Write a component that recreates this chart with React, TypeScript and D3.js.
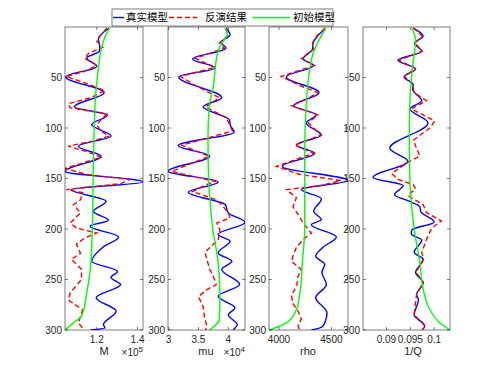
import React from "react";
import * as d3 from "d3";

type P = [number, number];

// depth ticks
const depthTicks = [50, 100, 150, 200, 250, 300];

// ---------- M (x10^5) ----------
const mTrue: P[] = [
  [1, 1.262], [12, 1.208], [20, 1.215], [24, 1.212], [30.6, 1.151], [39, 1.2], [49.4, 1.047], [65, 1.236],
  [79, 1.09], [87.4, 1.252], [96.6, 1.175], [108, 1.27], [118, 1.11], [128, 1.221], [142.9, 1.044],
  [153.4, 1.427], [161, 1.074], [172.6, 1.246], [182.5, 1.183], [191.4, 1.257], [197.3, 1.167],
  [207.8, 1.307], [218, 1.23], [232, 1.175], [242, 1.302], [248, 1.27], [255, 1.317], [268, 1.197],
  [281.5, 1.295], [294.6, 1.233], [298, 1.24], [300, 1.17],
];
const mInv: P[] = [
  [1, 1.25], [8, 1.22], [14, 1.2], [20, 1.23], [26, 1.16], [31, 1.14], [38, 1.2], [44, 1.14], [49, 1.05],
  [56, 1.15], [63, 1.24], [70, 1.17], [76, 1.06], [80, 1.07], [86, 1.25], [92, 1.22], [97, 1.2],
  [103, 1.22], [108, 1.26], [113, 1.18], [118, 1.06], [124, 1.16], [129, 1.22], [134, 1.14], [140, 1.045],
  [146, 1.15], [151, 1.36], [155, 1.32], [161, 1.05], [164, 1.13], [171, 1.12], [176, 1.085], [184, 1.12],
  [194, 1.07], [199, 1.1], [204, 1.2], [209, 1.14], [215, 1.1], [224, 1.12], [230, 1.075], [240, 1.125],
  [250, 1.125], [263, 1.07], [270, 1.06], [280, 1.13], [293, 1.11], [298, 1.13],
];
const mInit: P[] = [
  [1, 1.262], [10, 1.24], [24, 1.22], [41, 1.208], [74, 1.192], [143, 1.183], [184, 1.18], [233, 1.171],
  [263, 1.151], [286, 1.126], [293, 1.085], [300, 1.044],
];

// ---------- mu (x10^4) ----------
const muTrue: P[] = [
  [1, 3.963], [8, 4.03], [15, 3.88], [21, 3.96], [31.6, 3.4], [40.5, 3.78], [49.4, 3.17], [70, 3.89],
  [79, 3.58], [92, 4.02], [98, 4.04], [104, 4.1], [117.4, 3.16], [128, 3.69], [142.9, 2.99], [153.4, 3.83],
  [163.6, 3.33], [176, 3.95], [184, 4.0], [193.3, 4.28], [205.5, 3.83], [212, 4.03], [223.7, 3.83],
  [232, 4.06], [240, 3.89], [255, 4.19], [266.6, 3.83], [278, 4.11], [285, 4.0], [294.6, 4.15], [300, 4.08],
];
const muInv: P[] = [
  [1, 3.95], [8, 4.0], [16, 3.85], [21, 3.93], [31, 3.45], [40, 3.77], [49, 3.2], [58, 3.45], [70, 3.85],
  [79, 3.62], [90, 3.97], [103, 4.07], [117, 3.22], [128, 3.68], [143, 3.05], [153, 3.78], [157, 3.6],
  [163, 3.4], [171, 3.8], [176, 3.89], [184, 4.0], [189, 4.03], [194, 3.81], [201, 3.86], [211, 3.83],
  [220, 3.66], [223, 3.61], [230, 3.64], [240, 3.69], [247, 3.75], [255, 3.8], [260, 3.64], [267, 3.5],
  [277, 3.58], [287, 3.6], [296, 3.64], [300, 3.62],
];
const muInit: P[] = [
  [1, 3.95], [7, 3.985], [16, 3.89], [26, 3.82], [36, 3.79], [59, 3.75], [79, 3.68], [109, 3.66],
  [152, 3.67], [168, 3.69], [200, 3.74], [233, 3.83], [266, 3.86], [290, 3.85], [297, 3.75], [300, 3.69],
];

// ---------- rho ----------
const rhoTrue: P[] = [
  [1, 4446], [10, 4360], [16, 4325], [22, 4320], [31.6, 4229], [38, 4331], [49.4, 4070], [65, 4382],
  [78, 4140], [87, 4357], [95, 4261], [107, 4404], [116.8, 4166], [125, 4341], [138, 4032], [152, 4658],
  [161, 4213], [170, 4404], [182.5, 4331], [190.7, 4404], [195.7, 4309], [208, 4547], [218, 4420],
  [227, 4350], [235, 4436], [243, 4410], [255, 4452], [268, 4350], [283, 4458], [292, 4440], [297, 4410],
  [300, 4309],
];
const rhoInv: P[] = [
  [1, 4440], [10, 4350], [16, 4320], [22, 4330], [31, 4215], [38, 4340], [49, 4020], [58, 4200],
  [65, 4370], [72, 4250], [78, 4120], [87, 4370], [95, 4280], [107, 4400], [117, 4150], [125, 4330],
  [138, 3975], [146, 4200], [152, 4590], [157, 4400], [161, 4071], [169, 4166], [178, 4134], [188, 4197],
  [194, 4229], [204, 4309], [209, 4245], [218, 4166], [227, 4134], [232, 4118], [240, 4213], [247, 4181],
  [256, 4170], [266, 4118], [274, 4134], [281, 4181], [289, 4213], [296, 4181], [300, 4200],
];
const rhoInit: P[] = [
  [1, 4446], [26, 4325], [42, 4293], [75, 4261], [125, 4245], [200, 4245], [233, 4223], [260, 4204],
  [280, 4166], [293, 4070], [300, 3911],
];

// ---------- 1/Q ----------
const qTrue: P[] = [
  [1, 0.0956], [9, 0.0977], [16, 0.0959], [24, 0.0974], [33, 0.0924], [41.5, 0.0961], [49.4, 0.0937],
  [57, 0.0956], [62, 0.0955], [73, 0.0974], [81, 0.0949], [95, 0.0987], [120, 0.0907], [133, 0.0945],
  [149, 0.0872], [157, 0.0935], [166, 0.0917], [172, 0.0945], [178, 0.097], [183, 0.0972], [193, 0.1],
  [201, 0.0953], [205, 0.0952], [211, 0.0974], [223, 0.0958], [230, 0.0977], [243, 0.0961], [253, 0.0977],
  [265, 0.0963], [270, 0.0967], [285, 0.0958], [296, 0.098], [300, 0.0975],
];
const qInv: P[] = [
  [1, 0.0956], [9, 0.0975], [16, 0.096], [24, 0.0975], [33, 0.0926], [41, 0.096], [49, 0.0938],
  [57, 0.0955], [65, 0.0958], [73, 0.0984], [81, 0.0952], [93, 0.1001], [100, 0.0991], [112, 0.0956],
  [128, 0.097], [133, 0.0948], [145, 0.0911], [151, 0.0924], [156, 0.0956], [160, 0.0961], [167, 0.0945],
  [176, 0.0977], [184, 0.0984], [192, 0.1015], [199, 0.0995], [210, 0.0984], [223, 0.0974], [230, 0.0977],
  [243, 0.0962], [253, 0.0977], [265, 0.0963], [285, 0.0958], [296, 0.0981], [300, 0.0975],
];
const qInit: P[] = [
  [1, 0.0953], [13, 0.0961], [42, 0.0954], [75, 0.0949], [108, 0.0948], [152, 0.0949], [167, 0.0951],
  [200, 0.0958], [233, 0.097], [260, 0.0977], [280, 0.0991], [293, 0.1012], [300, 0.1033],
];

// legend labels
const legendLabels = ["真实模型", "反演结果", "初始模型"];

const panels = [
  { key: "M", label: "M", exp: "5", domain: [1.044, 1.427], ticks: [1.2, 1.4], fmt: (v: number) => v.toFixed(1), x0: 65, x1: 143, labelX: 104, series: [mTrue, mInv, mInit], tickLabelEnd: 62 },
  { key: "mu", label: "mu", exp: "4", domain: [2.99, 4.28], ticks: [3, 3.5, 4], fmt: (v: number) => String(v), x0: 168, x1: 245, labelX: 206, series: [muTrue, muInv, muInit], tickLabelEnd: 165 },
  { key: "rho", label: "rho", exp: "", domain: [3905, 4658], ticks: [4000, 4500], fmt: (v: number) => String(v), x0: 269, x1: 348, labelX: 308, series: [rhoTrue, rhoInv, rhoInit], tickLabelEnd: 266 },
  { key: "q", label: "1/Q", exp: "", domain: [0.0851, 0.1033], ticks: [0.09, 0.095, 0.1], fmt: (v: number) => String(v), x0: 363, x1: 450, labelX: 413, series: [qTrue, qInv, qInit], tickLabelEnd: 360 },
];

const colors = ["#0000ff", "#ff0000", "#00ff00"];
const Y0 = 27;
const Y1 = 330;
const axisColor = "#262626";
const font = "'Liberation Sans', Arial, sans-serif";

export default function App() {
  const y = d3.scaleLinear().domain([0, 300]).range([Y0, Y1]);
  return (
    <svg width={497} height={372} style={{ position: "absolute", left: 0, top: 0, background: "#fff" }}>
      <rect x={0} y={0} width={497} height={372} fill="#fff" />
      {panels.map((p) => {
        const x = d3.scaleLinear().domain(p.domain).range([p.x0, p.x1]);
        const curves = [d3.curveMonotoneY, d3.curveLinear, d3.curveMonotoneY];
        return (
          <g key={p.key}>
            <defs>
              <clipPath id={`clip-${p.key}`}>
                <rect x={p.x0} y={Y0} width={p.x1 - p.x0} height={Y1 - Y0} />
              </clipPath>
            </defs>
            <rect x={p.x0} y={Y0} width={p.x1 - p.x0} height={Y1 - Y0} fill="#fff" />
            <g clipPath={`url(#clip-${p.key})`}>
              {p.series.map((s, i) => {
                const line = d3
                  .line<P>()
                  .x((d) => x(d[1]))
                  .y((d) => y(d[0]))
                  .curve(curves[i]);
                return (
                  <path
                    key={i}
                    d={line(s) || ""}
                    fill="none"
                    stroke={colors[i]}
                    strokeWidth={1.4}
                    strokeDasharray={i === 1 ? "5,3" : undefined}
                  />
                );
              })}
            </g>
            <rect x={p.x0} y={Y0} width={p.x1 - p.x0} height={Y1 - Y0} fill="none" stroke={axisColor} strokeWidth={0.6} />
            {depthTicks.map((t) => (
              <g key={t}>
                <line x1={p.x0} x2={p.x0 + 3} y1={y(t)} y2={y(t)} stroke={axisColor} strokeWidth={0.6} />
                <line x1={p.x1} x2={p.x1 - 3} y1={y(t)} y2={y(t)} stroke={axisColor} strokeWidth={0.6} />
                <text x={p.tickLabelEnd} y={y(t)} dy="0.35em" textAnchor="end" fontSize={10} fontFamily={font} fill={axisColor}>
                  {t}
                </text>
              </g>
            ))}
            {p.ticks.map((t) => (
              <g key={t}>
                <line x1={x(t)} x2={x(t)} y1={Y1} y2={Y1 - 3} stroke={axisColor} strokeWidth={0.6} />
                <line x1={x(t)} x2={x(t)} y1={Y0} y2={Y0 + 3} stroke={axisColor} strokeWidth={0.6} />
                <text x={x(t)} y={Y1 + 13} textAnchor="middle" fontSize={10} fontFamily={font} fill={axisColor}>
                  {p.fmt(t)}
                </text>
              </g>
            ))}
            <text x={p.labelX} y={Y1 + 25} textAnchor="middle" fontSize={11} fontFamily={font} fill={axisColor}>
              {p.label}
            </text>
            {p.exp && (
              <text x={p.x1} y={Y1 + 26} textAnchor="end" fontSize={10} fontFamily={font} fill={axisColor}>
                ×10
                <tspan fontSize={8} dy={-4}>{p.exp}</tspan>
              </text>
            )}
          </g>
        );
      })}
      {/* legend */}
      <g>
        <rect x={112} y={9} width={221} height={17} fill="#fff" stroke={axisColor} strokeWidth={0.6} />
        {legendLabels.map((lab, i) => {
          const lx = [113, 169, 253][i];
          const lw = [11, 28, 37][i];
          const tx = [126, 205, 293][i];
          return (
            <g key={lab}>
              <line x1={lx} x2={lx + lw} y1={17.5} y2={17.5} stroke={colors[i]} strokeWidth={1.4} strokeDasharray={i === 1 ? "5,3" : undefined} />
              <text x={tx} y={17.5} dy="0.35em" fontSize={10.5} fontFamily="'Noto Sans CJK SC', sans-serif" fill="#000">
                {lab}
              </text>
            </g>
          );
        })}
      </g>
    </svg>
  );
}
